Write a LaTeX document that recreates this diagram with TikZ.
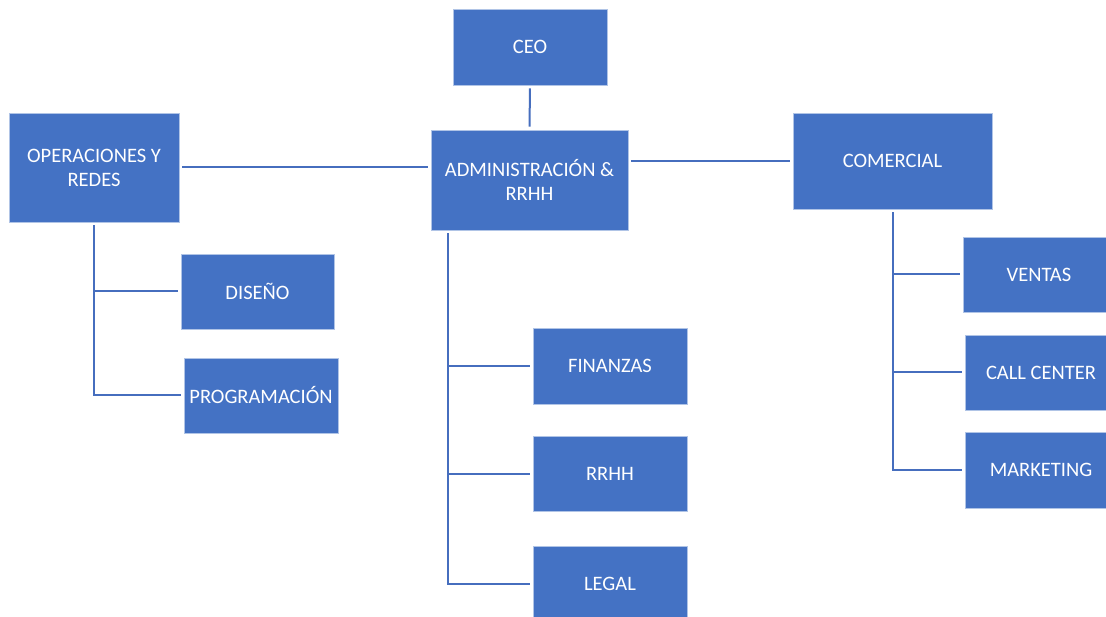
\documentclass[tikz,border=0pt]{standalone}
\usepackage{fontspec}
\setmainfont{Carlito}
\definecolor{boxblue}{RGB}{68,114,196}
\definecolor{boxedge}{RGB}{176,196,230}
\definecolor{linkblue}{RGB}{70,110,190}
\begin{document}
\begin{tikzpicture}[x=1pt,y=-1pt,
  unit/.style={rectangle, fill=boxblue, draw=boxedge, line width=0.7pt,
    text=white, align=center, inner sep=0pt,
    font=\fontsize{20.5}{24}\selectfont},
  link/.style={draw=linkblue, line width=2pt, shorten >=3pt, shorten <=3pt}]
  \useasboundingbox (0,0) rectangle (1106,617);
  \fill[white] (0,0) rectangle (1106,617);
  \clip (0,0) rectangle (1106,617);

  % top level
  \node[unit, minimum width=154pt, minimum height=76pt] (ceo) at (530,47) {CEO};
  \node[unit, minimum width=197pt, minimum height=100pt] (admin) at (529.5,180) {ADMINISTRACIÓN \&\\RRHH};
  \node[unit, minimum width=170pt, minimum height=109pt] (oper) at (94,167.5) {OPERACIONES Y\\REDES};
  \node[unit, minimum width=199pt, minimum height=96pt] (com) at (892.5,161) {COMERCIAL};

  % operaciones
  \node[unit, minimum width=153pt, minimum height=75pt] (dis) at (257.5,291.5) {DISEÑO};
  \node[unit, minimum width=154pt, minimum height=75pt] (prog) at (261,395.5) {PROGRAMACIÓN};

  % administracion
  \node[unit, minimum width=154pt, minimum height=76pt] (fin) at (610,366) {FINANZAS};
  \node[unit, minimum width=154pt, minimum height=75pt] (rrhh) at (610,473.5) {RRHH};
  \node[unit, minimum width=154pt, minimum height=75pt] (legal) at (610,583.5) {LEGAL};

  % comercial
  \node[unit, minimum width=152pt, minimum height=75pt] (ven) at (1039,274.5) {VENTAS};
  \node[unit, minimum width=152pt, minimum height=75pt] (call) at (1041,372.5) {CALL CENTER};
  \node[unit, minimum width=152pt, minimum height=76pt] (mkt) at (1041,470) {MARKETING};

  % trunk of the administration branch
  \coordinate (atrunk) at ([xshift=17pt]admin.south west);

  % top-level links
  \draw[link] (ceo.south) -- (admin.north);
  \draw[link] (oper.east) -- (oper.east -| admin.west);
  \draw[link] (admin.east |- com.west) -- (com.west);

  % operaciones links
  \draw[link] (oper.south) |- (prog.west);
  \draw[link, shorten <=0pt] (oper.south |- dis.west) -- (dis.west);

  % administracion links
  \draw[link] (atrunk) |- (legal.west);
  \draw[link, shorten <=0pt] (atrunk |- fin.west) -- (fin.west);
  \draw[link, shorten <=0pt] (atrunk |- rrhh.west) -- (rrhh.west);

  % comercial links
  \draw[link] (com.south) |- (mkt.west);
  \draw[link, shorten <=0pt] (com.south |- ven.west) -- (ven.west);
  \draw[link, shorten <=0pt] (com.south |- call.west) -- (call.west);
\end{tikzpicture}
\end{document}
